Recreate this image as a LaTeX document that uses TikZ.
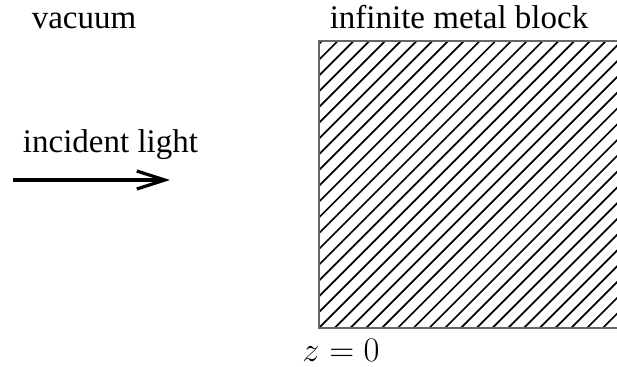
\documentclass[tikz,border=0pt]{standalone}
\usepackage{fontspec}
\setmainfont{Liberation Serif}
\usetikzlibrary{arrows.meta}

\begin{document}
\begin{tikzpicture}[x=0.5pt, y=-0.5pt,
  caption/.style={font=\fontsize{16.5}{20}\selectfont, inner sep=0pt, anchor=base},
  beam/.style={line width=1.6pt, -{Straight Barb[length=14pt, width=9pt, line width=1.6pt]}},
  hatchline/.style={line width=0.85pt, black}
]
  \useasboundingbox (0,0) rectangle (617,366);

  % labels
  \node[caption] (vacuum) at (84,28) {vacuum};
  \node[caption] (metal) at (459,28) {infinite metal block};
  \node[caption] (incident) at (110.5,152) {incident light};
  \node[caption] (surface) at (341,361) {$z=0$};

  % incident beam
  \coordinate (beamstart) at (13,180);
  \coordinate (beamend) at (170,180);
  \draw[beam] (beamstart) -- (beamend);

  % metal block with hatching
  \coordinate (blockSW) at (319,328);
  \coordinate (blockNE) at (620,41);
  \begin{scope}
    \clip (blockSW) rectangle (blockNE);
    \foreach \k in {0,...,37} {
      \pgfmathsetmacro{\c}{363+15.77*\k}
      \draw[hatchline] (\c-328,328) -- (\c-41,41);
    }
  \end{scope}
  \draw[gray!80!black, line width=0.8pt] (blockSW) rectangle (blockNE);
\end{tikzpicture}
\end{document}
